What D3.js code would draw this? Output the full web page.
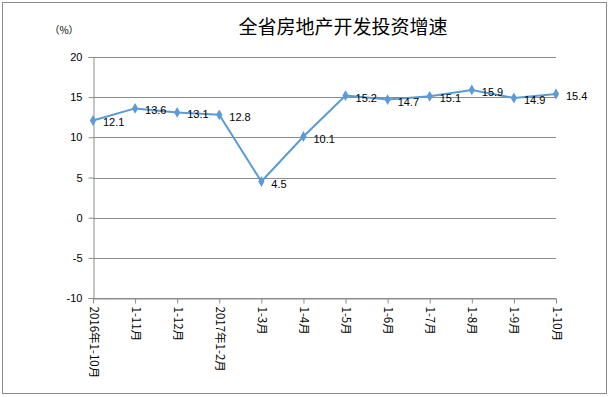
<!DOCTYPE html>
<html>
<head>
<meta charset="utf-8">
<script src="https://cdn.jsdelivr.net/npm/d3@7"></script>
<style>
  body { margin: 0; background: #fff; }
  svg { display: block; }
</style>
</head>
<body>
<svg id="chart" width="610" height="397"></svg>
<script>
// data
const categories = ["2016年1-10月", "1-11月", "1-12月", "2017年1-2月", "1-3月", "1-4月",
  "1-5月", "1-6月", "1-7月", "1-8月", "1-9月", "1-10月"];
const growth = [12.1, 13.6, 13.1, 12.8, 4.5, 10.1, 15.2, 14.7, 15.1, 15.9, 14.9, 15.4];
const yTicks = [-10, -5, 0, 5, 10, 15, 20];

const title = "全省房地产开发投资增速";
const unitLabel = "（%）";

const cjk = "'Noto Sans CJK SC', 'Liberation Sans', sans-serif";
const num = "'Liberation Sans', 'DejaVu Sans', sans-serif";
const lineColor = "#5b9bd5";
const gridColor = "#8c8c8c";

const margin = {top: 57, right: 54, bottom: 99, left: 93};
const W = 610, H = 397;
const width = W - margin.left - margin.right;
const height = H - margin.top - margin.bottom;

const svg = d3.select("#chart");

// outer frame
svg.append("rect")
  .attr("x", 2.5).attr("y", 2.5)
  .attr("width", 604).attr("height", 391)
  .attr("fill", "#fff")
  .attr("stroke", "#8a8a8a")
  .attr("stroke-width", 1);

svg.append("text")
  .attr("x", 343).attr("y", 34)
  .attr("text-anchor", "middle")
  .attr("font-family", cjk)
  .attr("font-size", 19)
  .attr("font-weight", "normal")
  .attr("fill", "#000")
  .text(title);

svg.append("text")
  .attr("x", 64).attr("y", 34)
  .attr("text-anchor", "middle")
  .attr("font-family", cjk)
  .attr("font-size", 10)
  .attr("fill", "#000")
  .text(unitLabel);

const g = svg.append("g")
  .attr("transform", `translate(${margin.left},${margin.top})`);

const x = d3.scalePoint()
  .domain(categories)
  .range([0, width]);

const y = d3.scaleLinear()
  .domain([-10, 20])
  .range([height, 0]);

// gridlines
g.append("g")
  .selectAll("line")
  .data(yTicks)
  .join("line")
  .attr("x1", 0).attr("x2", width)
  .attr("y1", d => Math.round(y(d)) + 0.5)
  .attr("y2", d => Math.round(y(d)) + 0.5)
  .attr("stroke", gridColor)
  .attr("stroke-width", 1);

// y axis
const yAxis = g.append("g")
  .attr("transform", "translate(0.5,0)")
  .call(d3.axisLeft(y).tickValues(yTicks).tickSize(5).tickPadding(6)
    .tickFormat(d => String(d)));
yAxis.select(".domain").attr("stroke", gridColor);
yAxis.selectAll(".tick line").attr("stroke", gridColor);
yAxis.selectAll(".tick text")
  .attr("font-family", num)
  .attr("font-size", 11)
  .attr("fill", "#000");

// x axis
const xAxis = g.append("g")
  .attr("transform", `translate(0,${Math.round(height) + 0.5})`)
  .call(d3.axisBottom(x).tickSize(5).tickSizeOuter(0));
xAxis.select(".domain").attr("stroke", gridColor);
xAxis.selectAll(".tick line").attr("stroke", gridColor);
xAxis.selectAll(".tick text")
  .attr("font-family", cjk)
  .attr("font-size", 11.5)
  .attr("fill", "#000")
  .attr("text-anchor", "start")
  .attr("dy", null)
  .attr("transform", "translate(-4,8) rotate(90)")
  .attr("x", 0).attr("y", 0);

// series line
const line = d3.line()
  .x((d, i) => x(categories[i]))
  .y(d => y(d));

g.append("path")
  .datum(growth)
  .attr("fill", "none")
  .attr("stroke", lineColor)
  .attr("stroke-width", 2)
  .attr("stroke-linejoin", "round")
  .attr("d", line);

const diamond = d3.symbol().type(d3.symbolDiamond).size(34);
g.append("g")
  .selectAll("path")
  .data(growth)
  .join("path")
  .attr("d", diamond)
  .attr("transform", (d, i) => `translate(${x(categories[i])},${y(d)})`)
  .attr("fill", lineColor);

// data labels
g.append("g")
  .selectAll("text")
  .data(growth)
  .join("text")
  .attr("x", (d, i) => x(categories[i]) + 10)
  .attr("y", d => y(d) + 6)
  .attr("font-family", num)
  .attr("font-size", 11)
  .attr("fill", "#000")
  .text(d => d.toFixed(1));
</script>
</body>
</html>
